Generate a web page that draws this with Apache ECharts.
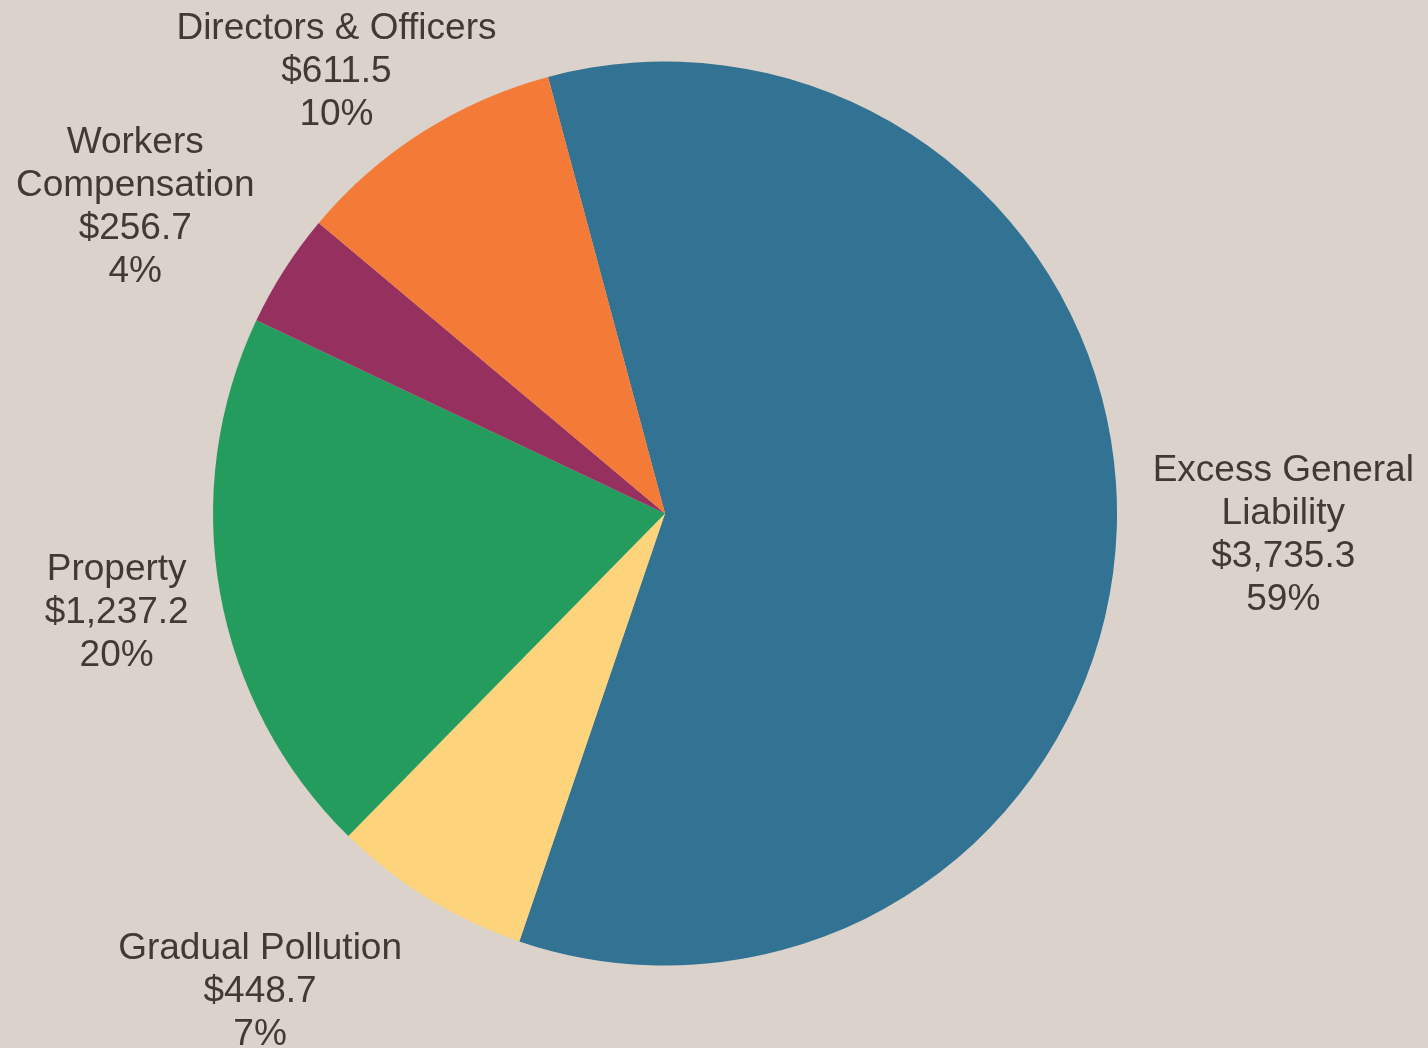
<!DOCTYPE html>
<html>
<head>
<meta charset="utf-8">
<script src="https://cdn.jsdelivr.net/npm/echarts@6/dist/echarts.min.js"></script>
<style>
  html, body { margin: 0; padding: 0; background: #DAD2CB; }
  #chart { width: 1428px; height: 1048px; }
</style>
</head>
<body>
<div id="chart"></div>
<script>
// ---- data ----
var categories = ['Excess General\nLiability', 'Gradual Pollution', 'Property', 'Workers\nCompensation', 'Directors & Officers'];
var values = [3735.3, 448.7, 1237.2, 256.7, 611.5];
var colors = ['#327292', '#FDD37B', '#249C5E', '#96305E', '#F47A37'];

// ---- layout / style ----
var CENTER = [0.4657, 0.49];
var RADIUS = 452;
var START_ANGLE = 105;
var LABEL_GAP = 33;
var labelNudge = [[3, 3], [-76, 10], [0, 3], [-21, 2], [18, 22]];

var chart = echarts.init(document.getElementById('chart'), null, { renderer: 'canvas' });

function fmtMoney(v) {
  return '$' + v.toLocaleString('en-US', { minimumFractionDigits: 1, maximumFractionDigits: 1 });
}

var total = values.reduce(function (a, b) { return a + b; }, 0);

chart.setOption({
  backgroundColor: '#DAD2CB',
  animation: false,
  series: [{
    type: 'pie',
    center: [(CENTER[0] * 100) + '%', (CENTER[1] * 100) + '%'],
    radius: RADIUS,
    startAngle: START_ANGLE,
    clockwise: true,
    percentPrecision: 0,
    avoidLabelOverlap: false,
    silent: true,
    itemStyle: { borderWidth: 0 },
    labelLine: { show: false },
    label: {
      show: true,
      position: 'outside',
      fontFamily: '"Liberation Sans", Arial, sans-serif',
      fontSize: 37,
      lineHeight: 43,
      color: '#403A36',
      align: 'center',
      formatter: function (p) {
        return p.name + '\n' + fmtMoney(p.value) + '\n' + p.percent + '%';
      }
    },
    labelLayout: function (p) {
      var i = p.dataIndex;
      var W = chart.getWidth(), H = chart.getHeight();
      var cx = W * CENTER[0], cy = H * CENTER[1];
      var before = 0;
      for (var k = 0; k < i; k++) before += values[k];
      var startTop = 90 - START_ANGLE;
      var mid = (startTop + 360 * (before + values[i] / 2) / total) * Math.PI / 180;
      var dx = Math.sin(mid), dy = -Math.cos(mid);
      var w = p.labelRect.width, h = p.labelRect.height;
      var rr = RADIUS + LABEL_GAP;
      return {
        x: cx + dx * rr + dx * w / 2 + labelNudge[i][0],
        y: cy + dy * rr + dy * h / 2 + labelNudge[i][1],
        align: 'center',
        verticalAlign: 'middle'
      };
    },
    data: categories.map(function (c, i) {
      return { name: c, value: values[i], itemStyle: { color: colors[i] } };
    })
  }]
});
</script>
</body>
</html>
